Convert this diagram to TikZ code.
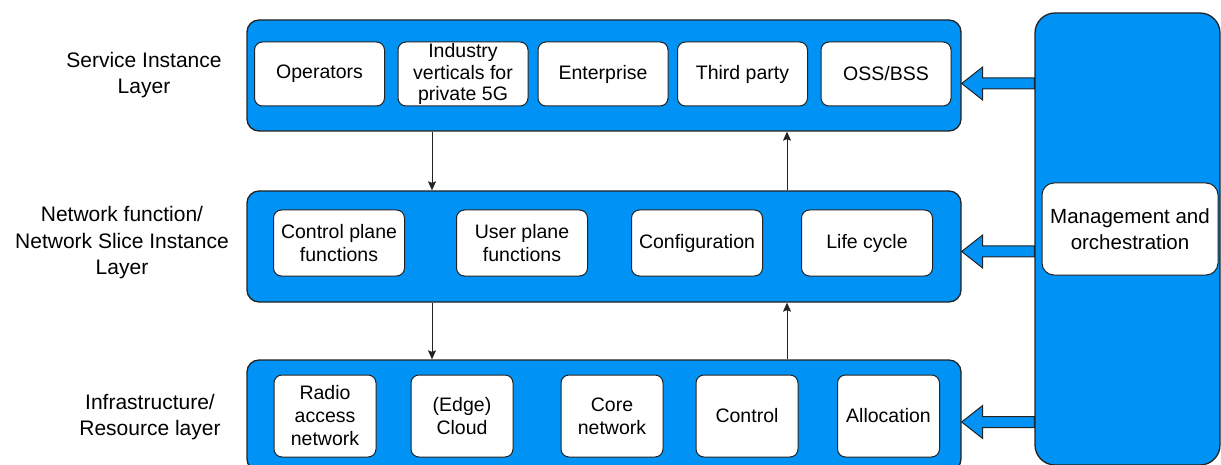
\documentclass[tikz,border=0pt]{standalone}
\usepackage{fontspec}
\setmainfont{Liberation Sans}
\usetikzlibrary{arrows.meta,positioning,calc}
\definecolor{layerblue}{RGB}{0,146,244}
\definecolor{edgegray}{RGB}{35,35,35}

\begin{document}
\begin{tikzpicture}[
    x=1pt, y=-1pt,
    >={Stealth[length=9pt,width=8pt,inset=1.5pt]},
    layer/.style={
        draw=edgegray, line width=1.3pt,
        fill=layerblue,
        rounded corners=12pt,
        minimum width=714pt,
        minimum height=111pt
    },
    inbox/.style={
        draw=edgegray, line width=1pt,
        fill=white,
        rounded corners=8pt,
        align=center, inner sep=0pt,
        font=\fontsize{19.5}{23}\selectfont
    },
    topbox/.style={inbox, minimum width=130pt, minimum height=64pt},
    midbox/.style={inbox, minimum width=131pt, minimum height=66pt},
    lowbox/.style={inbox, minimum width=102pt, minimum height=82pt},
    side/.style={align=center, font=\fontsize{21}{26.5}\selectfont},
    blockarr/.style={draw=edgegray, line width=1pt, fill=layerblue, line join=miter},
]
\useasboundingbox (0,0) rectangle (1221,465);

% the three layers
\node[layer] (svc) at (604,75.5) {};
\node[layer] (nf)  at (604,246.5) {};
\node[layer] (inf) at (604,415.5) {};

\node[side] (svclbl) at (144,75)  {Service Instance\\Layer};
\node[side] (nflbl)  at (122,243) {Network function/\\Network Slice Instance\\Layer};
\node[side] (inflbl) at (150,417) {Infrastructure/\\Resource layer};

% service instance layer
\node[topbox] (oper) at (319.5,74) {Operators};
\node[topbox, font=\fontsize{19.5}{21.5}\selectfont] (indus) at (463,74) {Industry\\verticals for\\private 5G};
\node[topbox] (enter) at (603,74) {Enterprise};
\node[topbox] (third) at (742.5,74) {Third party};
\node[topbox] (oss)   at (886,74) {OSS/BSS};

% network function / slice layer
\node[midbox] (cpf)  at (339,243) {Control plane\\functions};
\node[midbox] (upf)  at (522,243) {User plane\\functions};
\node[midbox] (conf) at (697,243) {Configuration};
\node[midbox] (life) at (867,243) {Life cycle};

% infrastructure / resource layer
\node[lowbox] (ran)   at (325,416)   {Radio\\access\\network};
\node[lowbox] (cloud) at (462,416)   {(Edge)\\Cloud};
\node[lowbox] (core)  at (612,416)   {Core\\network};
\node[lowbox] (ctrl)  at (747,416)   {Control};
\node[lowbox] (alloc) at (888.5,416) {Allocation};

% arrows between layers
\foreach \a/\b in {svc/nf, nf/inf} {
    \draw[->, line width=0.9pt, edgegray] ([xshift=-172pt]\a.south) -- ([xshift=-172pt]\b.north);
    \draw[->, line width=0.9pt, edgegray] ([xshift=183pt]\b.north) -- ([xshift=183pt]\a.south);
}

% management column
\node[draw=edgegray, line width=1.3pt, fill=layerblue, rounded corners=20pt,
      minimum width=185pt, minimum height=452pt] (mgmt) at (1127.5,239) {};
\node[inbox, rounded corners=12pt, minimum width=176pt, minimum height=92pt,
      font=\fontsize{20.5}{26.5}\selectfont] (mgmtlbl) at (1130,229) {Management and\\orchestration};

\foreach \l/\d in {svc/8, nf/5, inf/6.5} {
    \coordinate (tip) at ([yshift=-\d pt]\l.east);
    \draw[blockarr] (tip) -- ++(21,-16.5) -- ++(0,11)
        -- ($(tip -| mgmt.west)+(0,-5.5)$) -- ($(tip -| mgmt.west)+(0,5.5)$)
        -- ($(tip)+(21,5.5)$) -- ++(0,11) -- cycle;
}

\end{tikzpicture}
\end{document}
